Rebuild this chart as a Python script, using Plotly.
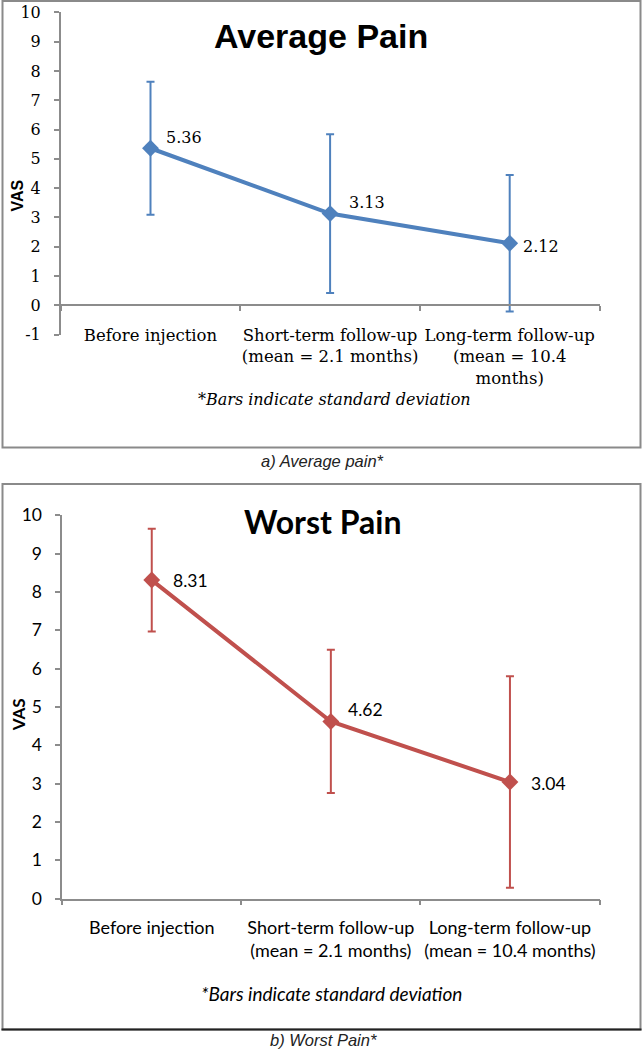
import plotly.graph_objects as go

# ---------------- data ----------------
categories = ["Before injection", "Short-term follow-up", "Long-term follow-up"]
avg_tick_text = [
    "Before injection",
    "Short-term follow-up<br>(mean = 2.1 months)",
    "Long-term follow-up<br>(mean = 10.4<br>months)",
]
worst_tick_text = [
    "Before injection",
    "Short-term follow-up<br>(mean = 2.1 months)",
    "Long-term follow-up<br>(mean = 10.4 months)",
]
avg_mean = [5.36, 3.13, 2.12]
avg_sd = [2.27, 2.71, 2.33]
worst_mean = [8.31, 4.62, 3.04]
worst_sd = [1.34, 1.87, 2.76]
avg_yticks = list(range(-1, 11))
worst_yticks = list(range(0, 11))

# ---------------- layout helpers ----------------
W, H = 643, 1050


def px(x):
    return x / W


def py(y):
    return 1 - y / H


BLUE = "#4F81BD"
RED = "#C0504D"
AXIS = "#8C8C8C"
SERIF = "DejaVu Serif"
SANS = "Lato"

fig = go.Figure()

fig.add_trace(go.Scatter(
    x=categories, y=avg_mean, xaxis="x", yaxis="y",
    mode="lines+markers",
    line=dict(color=BLUE, width=4),
    marker=dict(symbol="diamond", size=13, color=BLUE),
    error_y=dict(type="data", array=avg_sd, visible=True, color=BLUE, thickness=2, width=4),
    showlegend=False, hoverinfo="skip",
))
fig.add_trace(go.Scatter(
    x=categories, y=worst_mean, xaxis="x2", yaxis="y2",
    mode="lines+markers",
    line=dict(color=RED, width=4),
    marker=dict(symbol="diamond", size=13, color=RED),
    error_y=dict(type="data", array=worst_sd, visible=True, color=RED, thickness=2, width=4),
    showlegend=False, hoverinfo="skip",
))

axis_common = dict(showgrid=False, zeroline=False, showline=True, linecolor=AXIS,
                   linewidth=1.5, ticks="outside", ticklen=5, tickcolor=AXIS,
                   tickwidth=1.5, automargin=False, tickangle=0)

fig.update_layout(
    width=W, height=H,
    margin=dict(l=0, r=0, t=0, b=0),
    paper_bgcolor="white", plot_bgcolor="white",
    xaxis=dict(axis_common, type="category", range=[-0.5, 2.5],
               domain=[px(60.7), px(599.5)], anchor="free", position=py(305.3),
               tickson="boundaries", tickvals=categories, ticktext=avg_tick_text,
               tickfont=dict(family=SERIF, size=16.5, color="#000"),
               ticklabelstandoff=15),
    yaxis=dict(axis_common, range=[-1, 10], domain=[py(334.6), py(12.3)],
               anchor="x", tickvals=avg_yticks, ticktext=[str(v) for v in avg_yticks],
               tickfont=dict(family=SERIF, size=16, color="#000"),
               ticklabelstandoff=10),
    xaxis2=dict(axis_common, type="category", range=[-0.5, 2.5],
                domain=[px(62.2), px(599.5)], anchor="y2",
                tickson="boundaries", tickvals=categories, ticktext=worst_tick_text,
                tickfont=dict(family=SANS, size=18, color="#000"),
                ticklabelstandoff=12),
    yaxis2=dict(axis_common, range=[0, 10], domain=[py(898.5), py(515.3)],
                anchor="x2", tickvals=worst_yticks, ticktext=[str(v) for v in worst_yticks],
                tickfont=dict(family=SANS, size=17.5, color="#000"),
                ticklabelstandoff=10),
)

ann = []
# data labels
avg_shift = [(13, 11), (17, 11), (11, -3)]
for c, v, (dx, dy) in zip(categories, avg_mean, avg_shift):
    ann.append(dict(x=c, y=v, xref="x", yref="y", text=f"{v:.2f}", showarrow=False,
                    xanchor="left", yanchor="middle", xshift=dx, yshift=dy,
                    font=dict(family=SERIF, size=16, color="#000")))
worst_shift = [(19, 0), (15, 12), (19, -1)]
for c, v, (dx, dy) in zip(categories, worst_mean, worst_shift):
    ann.append(dict(x=c, y=v, xref="x2", yref="y2", text=f"{v:.2f}", showarrow=False,
                    xanchor="left", yanchor="middle", xshift=dx, yshift=dy,
                    font=dict(family=SANS, size=17.5, color="#000")))


def paper_text(x, y, text, font, angle=0):
    ann.append(dict(x=px(x), y=py(y), xref="paper", yref="paper", text=text,
                    showarrow=False, xanchor="center", yanchor="middle",
                    textangle=angle, font=font))


paper_text(321, 36, "<b>Average Pain</b>", dict(family="Liberation Sans", size=34, color="#000"))
paper_text(17, 195.5, "<b>VAS</b>", dict(family="Liberation Sans", size=16, color="#000"), -90)
paper_text(334, 399, "<i>*Bars indicate standard deviation</i>", dict(family=SERIF, size=16, color="#000"))
paper_text(322.5, 461, "<i>a) Average pain*</i>", dict(family="Liberation Sans", size=16.5, color="#222"))

paper_text(322, 521, "<b>Worst Pain</b>", dict(family=SANS, size=32, color="#000"))
paper_text(18.3, 715, "<b>VAS</b>", dict(family=SANS, size=17, color="#000"), -90)
paper_text(331.5, 993, "<i>*Bars indicate standard deviation</i>", dict(family=SANS, size=19, color="#000"))
paper_text(323, 1040, "<i>b) Worst Pain*</i>", dict(family="Liberation Sans", size=16.5, color="#222"))

fig.update_layout(annotations=ann)

shapes = [
    dict(type="rect", xref="paper", yref="paper", x0=px(2.5), x1=px(640.5), y0=py(447.5), y1=py(1),
         line=dict(color="#8A8A8A", width=2)),
    dict(type="rect", xref="paper", yref="paper", x0=px(2.5), x1=px(640.5), y0=py(1029.5), y1=py(484),
         line=dict(color="#8A8A8A", width=2)),
    dict(type="line", xref="paper", yref="paper", x0=px(1.5), x1=px(641.5), y0=py(1029.5), y1=py(1029.5),
         line=dict(color="#222", width=2)),
]
fig.update_layout(shapes=shapes)

fig.write_html("out.html", config={"displayModeBar": False},
               post_script="document.body.style.margin='0';")
